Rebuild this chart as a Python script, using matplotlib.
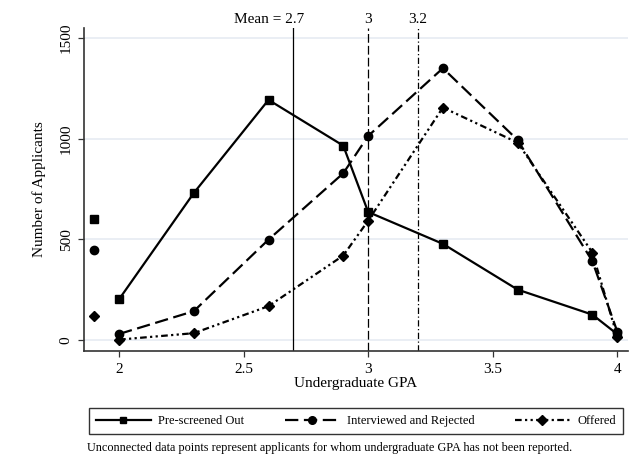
import matplotlib
matplotlib.use("Agg")
import matplotlib.pyplot as plt
from matplotlib.lines import Line2D

plt.rcParams['font.family'] = ['Liberation Serif', 'DejaVu Serif']

# GPA bins and counts per applicant group
gpa = [2.0, 2.3, 2.6, 2.9, 3.0, 3.3, 3.6, 3.9, 4.0]
prescreened = [203, 730, 1192, 965, 636, 478, 251, 127, 30]
interviewed = [31, 144, 499, 828, 1013, 1349, 993, 392, 43]
offered = [3, 35, 169, 420, 593, 1154, 980, 435, 18]

# applicants with no GPA reported (plotted unconnected)
missing_x = 1.9
missing_vals = [602, 449, 122]

series_names = ['Pre-screened Out', 'Interviewed and Rejected', 'Offered']
ref_lines = [2.7, 3.0, 3.2]
ref_labels = ['Mean = 2.7', '3', '3.2']
yticks = [0, 500, 1000, 1500]
xticks = [2, 2.5, 3, 3.5, 4]

fig = plt.figure(figsize=(6.34, 4.67), dpi=100)
ax = fig.add_axes([0.132, 0.249, 0.8585, 0.6917])

styles = [
    dict(ls='-', marker='s', ms=5.5),
    dict(ls=(0, (6, 2.5)), marker='o', ms=6),
    dict(ls=(0, (3, 1.5, 1, 1.5, 1, 1.5)), marker='D', ms=5.5),
]
all_series = [prescreened, interviewed, offered]

for vals, st, miss in zip(all_series, styles, missing_vals):
    ax.plot(gpa, vals, color='black', lw=1.6, ls=st['ls'],
            marker=st['marker'], ms=st['ms'], zorder=3)
    ax.plot([missing_x], [miss], color='black', ls='none',
            marker=st['marker'], ms=st['ms'], zorder=3)

ref_styles = ['-', (0, (7, 2.5)), (0, (5, 2, 1, 2))]
# the mean label sits left of its line, the others are centred
ref_offsets = [(8, 1), (0, 1), (0, 1)]
ref_ha = ['right', 'center', 'center']
for xv, ls, lab, off, ha in zip(ref_lines, ref_styles, ref_labels, ref_offsets, ref_ha):
    ax.axvline(xv, color='black', lw=0.9, ls=ls, zorder=2)
    ax.annotate(lab, (xv, 1.0), xycoords=ax.get_xaxis_transform(),
                xytext=off, textcoords='offset points',
                ha=ha, va='bottom', fontsize=11, annotation_clip=False)

ax.set_xlim(1.858, 4.043)
ax.set_ylim(-52, 1550)
ax.set_xticks(xticks)
ax.set_xticklabels(['2', '2.5', '3', '3.5', '4'])
ax.set_yticks(yticks)
ax.set_yticklabels([str(v) for v in yticks], rotation=90, va='center')
ax.tick_params(axis='both', labelsize=11, length=4.3, width=0.9, color='#333333')
ax.tick_params(axis='x', pad=4.5)
ax.tick_params(axis='y', pad=3.5)

ax.grid(axis='y', color='#e6ebf2', lw=1.2, zorder=0)
ax.set_axisbelow(True)
for side in ['top', 'right']:
    ax.spines[side].set_visible(False)
for side in ['left', 'bottom']:
    ax.spines[side].set_color('#333333')
    ax.spines[side].set_linewidth(1.2)

ax.set_xlabel('Undergraduate GPA', fontsize=11, labelpad=1)
ax.set_ylabel('Number of Applicants', fontsize=11, labelpad=10)

handles = [Line2D([0], [0], color='black', lw=1.6, ls=st['ls'],
                  marker=st['marker'], ms=st['ms'] - 0.5) for st in styles]
leg = fig.legend(handles, series_names, loc='lower left',
                 bbox_to_anchor=(89 / 634, 1 - 434 / 467, (622.7 - 89) / 634, 32 / 467),
                 mode='expand', ncol=3, fontsize=9, frameon=True,
                 fancybox=False, edgecolor='black', handlelength=4.4,
                 handletextpad=0.6, borderaxespad=0, borderpad=0.55)
leg.get_frame().set_linewidth(1.0)

fig.text(87 / 634, 1 - 448 / 467,
         'Unconnected data points represent applicants for whom undergraduate GPA has not been reported.',
         fontsize=8.8, ha='left', va='center')

fig.savefig('out.png', dpi=100, facecolor='white')
